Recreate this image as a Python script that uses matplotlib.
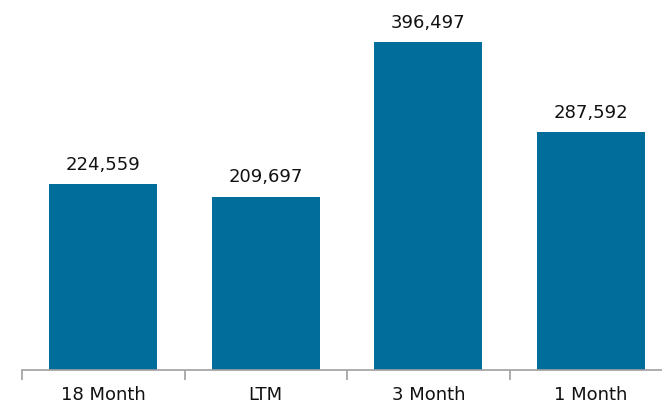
import matplotlib.pyplot as plt
import numpy as np

periods = ['18 Month', 'LTM', '3 Month', '1 Month']
values = [224559, 209697, 396497, 287592]

plt.rcParams['font.family'] = ['DejaVu Sans']

fig = plt.figure(figsize=(6.62, 4.06), dpi=100)
ax = fig.add_axes([22 / 662, 35 / 406, 640 / 662, 371 / 406])

x = np.arange(len(periods))
bars = ax.bar(x, values, width=0.665, color='#006d9a')

for b, v in zip(bars, values):
    ax.annotate(f'{v:,}', (b.get_x() + b.get_width() / 2, v),
                xytext=(0, 11), textcoords='offset points',
                ha='center', va='baseline', fontsize=13, color='#111111')

ax.set_xlim(-0.5, 3.438)
ax.set_ylim(0, 449000)

for s in ['top', 'right', 'left']:
    ax.spines[s].set_visible(False)
ax.spines['bottom'].set_color('#a0a0a0')
ax.spines['bottom'].set_linewidth(1.2)
ax.set_yticks([])

ax.set_xticks(x)
ax.set_xticklabels(periods, fontsize=13, color='#111111')
ax.tick_params(axis='x', which='major', length=0, pad=11)
ax.set_xticks(np.arange(-0.5, 3.5, 1.0), minor=True)
ax.tick_params(axis='x', which='minor', length=7, width=1.2, color='#a0a0a0')

fig.savefig('out.png', dpi=100)
